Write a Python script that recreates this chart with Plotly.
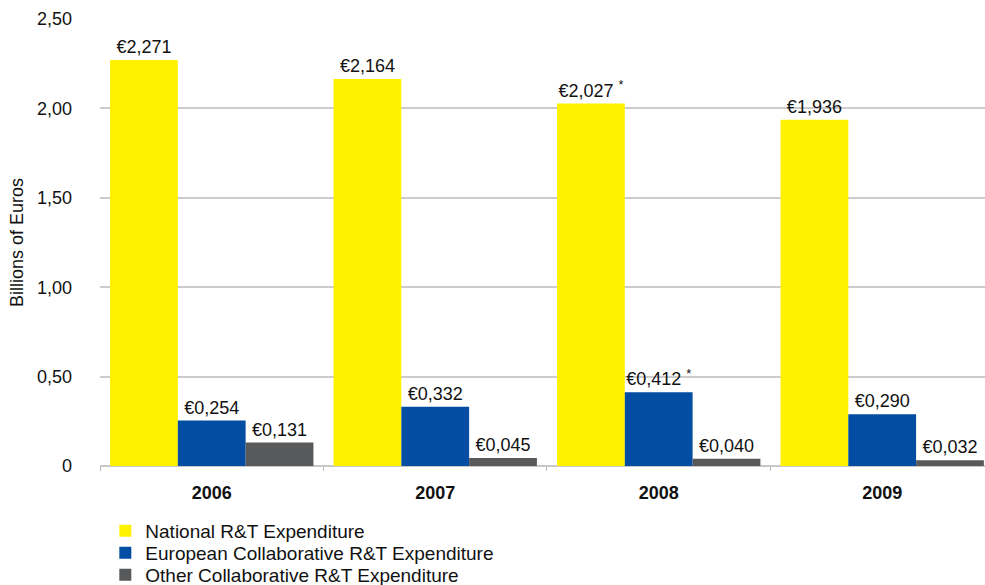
import plotly.graph_objects as go

years = ["2006", "2007", "2008", "2009"]
national = [2.271, 2.164, 2.027, 1.936]
european = [0.254, 0.332, 0.412, 0.290]
other = [0.131, 0.045, 0.040, 0.032]
national_labels = ["€2,271", "€2,164", "€2,027 <sup>*</sup>", "€1,936"]
european_labels = ["€0,254", "€0,332", "€0,412 <sup>*</sup>", "€0,290"]
other_labels = ["€0,131", "€0,045", "€0,040", "€0,032"]
series_names = ["National R&T Expenditure", "European Collaborative R&T Expenditure",
                "Other Collaborative R&T Expenditure"]
colors = ["#FFF200", "#034EA2", "#58595B"]
ytick_vals = [0, 0.5, 1.0, 1.5, 2.0, 2.5]
ytick_text = ["0", "0,50", "1,00", "1,50", "2,00", "2,50"]

font = "Liberation Sans, Arial, sans-serif"
legend_ids = ["legend", "legend2", "legend3"]
legend_rows_y = [-0.1454, -0.1946, -0.2438]

fig = go.Figure()
for vals, labels, name, col, lid in zip([national, european, other],
                                        [national_labels, european_labels, other_labels],
                                        series_names, colors, legend_ids):
    fig.add_trace(go.Bar(
        x=years, y=vals, name=name, marker_color=col, marker_line_width=0,
        text=labels, textposition="outside", cliponaxis=False, constraintext="none",
        textfont=dict(size=18, color="#111", family=font), legend=lid,
    ))

legend_style = dict(orientation="v", x=0.006, xanchor="left", yanchor="middle",
                    font=dict(size=19, family=font, color="#111"), itemsizing="constant",
                    bgcolor="rgba(0,0,0,0)", borderwidth=0)
fig.update_layout(
    width=985, height=585,
    margin=dict(l=100, r=0, t=19, b=119, autoexpand=False),
    barmode="group", bargap=0.09, bargroupgap=0,
    plot_bgcolor="white", paper_bgcolor="white",
    font=dict(family=font, size=18, color="#111"),
    legend=dict(y=legend_rows_y[0], **legend_style),
    legend2=dict(y=legend_rows_y[1], **legend_style),
    legend3=dict(y=legend_rows_y[2], **legend_style),
    showlegend=True,
)
fig.update_xaxes(
    range=[-0.5, 3.46], showgrid=False, showline=False, automargin=False,
    tickfont=dict(size=18, family=font, weight="bold"),
    ticks="outside", tickson="boundaries", ticklen=4, tickcolor="#BBBBBB",
    ticklabelstandoff=14,
)
fig.update_yaxes(
    range=[0, 2.5], tickvals=ytick_vals, ticktext=ytick_text, automargin=False,
    showgrid=True, gridcolor="#CCCCCC", gridwidth=1.5,
    zeroline=True, zerolinecolor="#C8C8C8", zerolinewidth=2,
    tickfont=dict(size=18, family=font), ticks="", ticklabelstandoff=27,
    title=dict(text="Billions of Euros", font=dict(size=18, family=font), standoff=8),
)
fig.write_html("out.html", config={"displayModeBar": False},
               post_script="document.body.style.margin='0';document.body.style.overflow='hidden';")
